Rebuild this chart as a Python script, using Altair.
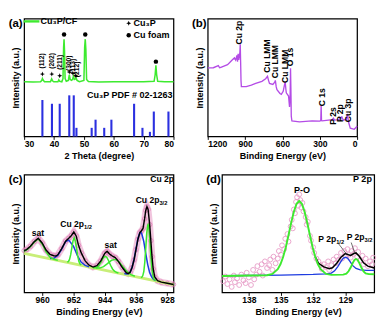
import altair as alt
import pandas as pd

FONT = "Liberation Sans"
GREEN = "#3DEA2F"
BARBLUE = "#2B30E0"
PURPLE = "#B44CE6"
PINK = "#E07FB6"
BLUE = "#1E3CE0"
BGLINE = "#C8EE78"

W = 157
H = 124

# ---------------- (a) XRD ----------------
xrd_theta = [30, 33, 35.5, 35.9, 36.1, 36.4, 36.8, 38.8, 39.0, 39.2, 39.5, 39.9, 41.3, 41.6, 41.9,
             42.6, 43.0, 43.2, 43.35, 43.5, 43.7, 44.1, 44.8, 45.1, 45.4, 45.9, 46.2, 46.5, 46.8,
             47.2, 47.4, 47.7, 48.5, 50.0, 50.25, 50.45, 50.65, 50.9, 51.5, 55, 60, 65, 70, 73.5,
             73.85, 74.1, 74.35, 74.7, 77, 80]
xrd_int = [58.5, 58.3, 58.5, 60, 62, 60, 58.5, 58.5, 60, 61.5, 59.5, 58.5, 58.5, 60.5, 59,
           58.5, 62, 95, 104, 92, 62, 59, 60, 66, 61, 60, 61, 64.5, 61,
           61.5, 62.5, 60, 58.5, 60, 95, 104, 93, 61, 58.8, 58.3, 58.6, 58.4, 58.6, 59,
           66, 76, 66, 59, 58.5, 58.4]

pdf_theta = [36.1, 39.3, 41.9, 45.1, 46.6, 47.5, 52.6, 53.9, 56.8, 59.2, 66.8, 69.6, 72.1, 73.4, 78.3]
pdf_int = [39, 35, 35, 44, 44, 9.3, 9.3, 18, 9.3, 18, 35, 9.3, 5, 26.7, 26.7]

star_theta = [36.1, 39.25, 41.9, 45.1, 46.3, 47.3]
star_int = [66.7, 66.7, 65, 69, 67.7, 65]
dot_theta = [43.35, 50.45, 74.1]
dot_int = [109, 109, 80]

hkl_text = ["(112)", "(202)", "(211)", "(300)", "(113)", "(212)"]
hkl_theta = [36.1, 39.25, 41.9, 45.2, 46.5, 47.8]
hkl_int = [80.8, 80.8, 79.3, 78.3, 75, 71.7]

# legend / annotations of (a)
leg_line_x = [29.8]
leg_line_x2 = [35.1]
leg_line_y = [123]
a_text = ["Cu\u2083P/CF", "Cu\u2083P", "Cu foam"]
a_text_x = [35.5, 66.6, 66.6]
a_text_y = [123, 121, 108.3]
a_star_x = [65.0]
a_star_y = [121]
a_dot_x = [65.0]
a_dot_y = [108.3]
pdf_label = ["Cu\u2083P PDF # 02-1263"]
pdf_label_x = [79.7]
pdf_label_y = [44.5]

# ---------------- (b) survey ----------------
b_e = [1200, 1155, 1115, 1105, 1095, 1041, 1004, 986, 976, 966, 961, 956, 951, 946, 942, 939, 936,
       933, 930, 891, 850, 815, 765, 735, 720, 712, 704, 677, 662, 657, 650, 644, 620, 609, 594,
       584, 578, 572, 569, 551, 543, 538, 535, 532, 529, 524, 463, 362, 300, 292, 289, 286, 282,
       230, 199, 191, 181, 145, 136, 123, 111, 86, 80, 76, 72, 68, 55, 23, 0]
b_v = [73.3, 73.5, 75.7, 73.5, 74, 76.7, 81.7, 84, 81.7, 86.7, 80, 88.3, 82, 86, 90, 98.5, 80,
       60, 53.3, 53.3, 55, 56.7, 59, 61.7, 64.3, 60, 56.7, 55.7, 58, 60, 53, 50, 46, 45, 48.3,
       55, 58.3, 50, 46.7, 43.3, 31.7, 45, 73, 50, 21.7, 16.7, 15.7, 16.7, 16.5, 17, 33.3, 17, 16.7,
       17.5, 18, 19.5, 17.5, 18, 19.5, 21, 17.5, 18.5, 22, 24.3, 18, 15, 9, 7.7, 11]
b_lab = ["Cu 2p", "Cu LMM", "Cu LMM", "Cu LMM", "O 1s", "C 1s", "P 2s", "P 2p", "Cu 3p"]
b_lab_e = [951, 719, 657, 576, 541, 284, 196, 134, 75]
b_lab_v = [111, 86, 80, 75, 85, 42, 22, 25, 28]

# ---------------- (c) Cu 2p ----------------
c_bg_e = [964.6, 926.4]
c_bg_v = [41.5, 8.5]
c_black_e = [964.6, 964, 963, 962, 961, 960, 959, 958, 957, 956.5, 956, 955, 954, 953.2, 952.5,
             951.9, 951.3, 950.7, 950, 949, 948, 947, 946, 945, 944, 943.4, 942.8, 942, 941.3,
             940.5, 939.5, 938.5, 938, 937.5, 937, 936.5, 936, 935.5, 935, 934.6, 934.2, 933.8,
             933.5, 933.2, 932.9, 932.5, 932.2, 931.9, 931.6, 931.2, 930.5, 929.5, 928, 926.4]
c_black_v = [44.5, 45.5, 49, 54, 57.5, 52.5, 45, 40.5, 39, 38.7, 40, 46.5, 54.5, 57.5, 60.5,
             64.3, 60, 50, 42, 33.5, 29, 27, 28.5, 33.5, 41.5, 43.7, 41, 38.5, 37,
             33, 26.5, 21, 20, 21.5, 26.5, 34.5, 45.5, 56.5, 63.5, 65.5, 68, 78,
             87, 91, 88, 72, 55, 38, 25, 16.5, 12.5, 11, 9.8, 8.6]
c_g1_e = [964.6, 964, 963, 962, 961, 960, 959, 958, 957, 956]
c_g1_v = [44, 45, 48.5, 53.5, 57, 51.5, 43, 37.5, 35.2, 34.1]
c_g2_e = [953.6, 953.3, 953.0, 952.7, 952.4, 952.1, 951.8, 951.5, 951.2, 950.9, 950.6, 950.3, 950.0]
c_g2_v = [32.2, 32.8, 35.1, 40.1, 47.7, 54.9, 58, 54.4, 46.7, 38.6, 33, 30.3, 29.2]
c_g3_e = [947, 946.5, 946, 945.5, 945, 944.5, 944, 943.5, 943, 942.5, 942, 941.5, 941, 940.5]
c_g3_v = [26.4, 26.3, 26.7, 28.5, 31.9, 35.8, 38.4, 37.6, 33.7, 28.9, 25, 22.6, 21.4, 20.7]
c_g4_e = [946.3, 945.3, 944.3, 943.3, 942.3, 941.3, 940.3, 939.3, 938.3, 937.3, 936.3]
c_g4_v = [25.9, 25.9, 27.4, 30.6, 34.1, 35.3, 32.4, 27.1, 22.2, 19, 17.3]
c_g5_e = [934.75, 934.5, 934.25, 934, 933.75, 933.5, 933.25, 933, 932.9, 932.75, 932.5, 932.25,
          932, 931.75, 931.5, 931.25, 931]
c_g5_v = [15.9, 16.4, 18, 22.3, 32.1, 47.1, 62.9, 71.3, 72, 69.8, 58.3, 42.3, 28.6, 19.4, 15.2,
          13.3, 12.5]
c_b1_e = [958, 957, 956, 955, 954, 953.2, 952, 951, 950, 949, 948]
c_b1_v = [36, 36.3, 39.3, 46.1, 54.1, 55.6, 49.1, 39.4, 32.1, 28.8, 27.2]
c_b2_e = [939, 938.5, 938, 937.5, 937, 936.5, 936, 935.5, 935, 934.8, 934.5, 934, 933.5, 933,
          932.5, 932, 931.5, 931]
c_b2_v = [20.3, 19.8, 19.9, 21.6, 26.7, 35, 46.2, 57.1, 63.7, 64.1, 62.1, 53.9, 41.2, 29.6,
          21.1, 16.5, 13.9, 12.6]
c_lab = ["Cu 2p", "sat", "sat"]
c_lab_e = [929.3, 961.1, 942.5]
c_lab_v = [120, 63, 49.7]
c_main = ["Cu 2p", "Cu 2p"]
c_sub = ["3/2", "1/2"]
c_main_e = [930.0, 949.3]
c_main_v = [97.7, 72]

# ---------------- (d) P 2p ----------------
d_green_e = [140.5, 136.3, 135.8, 135.3, 135.05, 134.8, 134.55, 134.3, 134.05, 133.8, 133.55,
             133.3, 133.05, 132.8, 132.55, 132.3, 132.05, 131.8, 131.55, 131.3, 130.8, 130.3,
             129.2, 128.9, 128.7, 128.5, 128.3, 128.15, 128.0, 127.85, 127.7, 127.5, 127.3,
             127.1, 126.8, 126.3]
d_green_v = [17.5, 18.3, 19.7, 24.7, 29.9, 37.7, 48.1, 60.7, 73.9, 85.7, 94,
             97, 94, 85.7, 73.9, 60.7, 48.1, 37.7, 29.9, 24.7, 19.8, 18.7,
             19, 20, 22.5, 26.5, 31.5, 34.5, 35.5, 34.5, 31.5, 26.5, 22.5,
             20.3, 19.5, 19.4]
d_blue_e = [140.5, 135, 132, 130.8, 130.3, 130.0, 129.7, 129.4, 129.2, 129.0, 128.8, 128.6,
            128.3, 128.0, 127.6, 127.0, 126.3]
d_blue_v = [17.8, 18.5, 19.2, 19.8, 20.6, 23, 27.5, 33, 36.3, 37.5, 36.5, 33.5,
            28.5, 25.5, 24, 23.5, 23.5]
d_black_e = [131.8, 131.5, 131.0, 130.5, 130.2, 129.8, 129.4, 129.0, 128.7, 128.5, 128.2,
             128.0, 127.7, 127.3, 126.9, 126.3]
d_black_v = [37.7, 31, 27.2, 25.3, 26.2, 31, 37.5, 41.3, 40, 39.3, 41.3,
             42, 38.5, 31.5, 28, 26]
d_pts_e = [140.4, 140.2, 140.0, 139.8, 139.6, 139.4, 139.3, 139.1, 138.9, 138.7, 138.5, 138.3,
           138.2, 138.0, 137.8, 137.6, 137.5, 137.3, 137.2, 137.0, 136.8, 136.7, 136.5, 136.3,
           136.1, 136.0, 135.8, 135.7, 135.5, 135.3, 135.2, 135.0, 134.9, 134.7, 134.6, 134.4,
           134.3, 134.1, 134.0, 133.9, 133.8, 133.7, 133.6, 133.5, 133.4, 133.3, 133.2, 133.1,
           133.0, 132.9, 132.7, 132.6, 132.5, 132.3, 132.2, 132.0, 131.9, 131.7, 131.5, 131.3,
           131.2, 131.0, 130.8, 130.6, 130.5, 130.3, 130.1, 129.9, 129.8, 129.6, 129.4, 129.3,
           129.1, 129.0, 128.8, 128.7, 128.5, 128.4, 128.2, 128.1, 127.9, 127.8, 127.6, 127.4,
           127.3, 127.1, 126.9, 126.7, 126.5, 126.4]
d_pts_v = [12, 17, 9, 14, 6, 18, 11, 15, 8, 19, 13, 10,
           21, 16, 8, 24, 14, 19, 28, 22, 30, 18, 33, 26,
           29, 35, 24, 38, 31, 36, 44, 40, 50, 46, 57, 62,
           54, 70, 77, 68, 88, 84, 96, 101, 92, 104, 98, 90,
           95, 86, 80, 72, 75, 60, 55, 48, 42, 36, 33, 29,
           25, 30, 27, 33, 24, 29, 35, 31, 38, 35, 42, 36,
           44, 39, 46, 40, 37, 44, 41, 47, 38, 43, 34, 39,
           30, 36, 28, 33, 30, 37]
d_lab = ["P 2p", "P-O"]
d_lab_e = [127.4, 133.05]
d_lab_v = [120, 108.7]
d_main = ["P 2p", "P 2p"]
d_sub = ["1/2", "3/2"]
d_main_e = [129.85, 127.2]
d_main_v = [57, 58.7]
d_lead_e = [129.65, 128.45]
d_lead_e2 = [128.9, 128.1]
d_lead_v = [52, 53]
d_lead_v2 = [41, 41.5]

STAR = "M0,-1L0.28,-0.28L1,0L0.28,0.28L0,1L-0.28,0.28L-1,0L-0.28,-0.28Z"


def xenc(field, domain, values, title, reverse=False):
    return alt.X(f"{field}:Q",
                 scale=alt.Scale(domain=domain, reverse=reverse, nice=False, zero=False),
                 axis=alt.Axis(values=values, title=title, format="d"))


def yenc(field, top):
    return alt.Y(f"{field}:Q", scale=alt.Scale(domain=[0, top], nice=False, zero=False),
                 axis=alt.Axis(title="Intensity (a.u.)", labels=False, ticks=False, titlePadding=4))


def plabel(t):
    return alt.Chart(pd.DataFrame({"t": [t]})).mark_text(
        fontSize=12, fontWeight="bold", align="center", baseline="middle", color="black"
    ).encode(x=alt.value(-9), y=alt.value(5), text="t:N")


# ---------- panel a ----------
XA = dict(domain=[30, 80], values=[30, 40, 50, 60, 70, 80], title="2 Theta (degree)")
df_xrd = pd.DataFrame({"x": xrd_theta, "y": xrd_int})
df_pdf = pd.DataFrame({"x": pdf_theta, "y": pdf_int})
a_layers = [
    alt.Chart(df_pdf).mark_rule(color=BARBLUE, strokeWidth=2.2).encode(
        x=xenc("x", **XA), y=yenc("y", 126), y2=alt.datum(0)),
    alt.Chart(df_xrd).mark_line(color=GREEN, strokeWidth=1.6).encode(
        x=xenc("x", **XA), y=yenc("y", 126)),
    alt.Chart(pd.DataFrame({"x": star_theta + a_star_x, "y": star_int + a_star_y})).mark_point(
        shape=STAR, filled=True, color="black", size=28, opacity=1).encode(
        x=xenc("x", **XA), y=yenc("y", 126)),
    alt.Chart(pd.DataFrame({"x": dot_theta + a_dot_x, "y": dot_int + a_dot_y})).mark_circle(
        color="black", size=22, opacity=1).encode(x=xenc("x", **XA), y=yenc("y", 126)),
    alt.Chart(pd.DataFrame({"x": hkl_theta, "y": hkl_int, "t": hkl_text})).mark_text(
        angle=270, fontSize=7, fontWeight="bold", color="black", align="center",
        baseline="middle").encode(x=xenc("x", **XA), y=yenc("y", 126), text="t:N"),
    alt.Chart(pd.DataFrame({"x": leg_line_x, "x2": leg_line_x2, "y": leg_line_y})).mark_rule(
        color=GREEN, strokeWidth=2.5).encode(x=xenc("x", **XA), x2="x2:Q", y=yenc("y", 126)),
    alt.Chart(pd.DataFrame({"x": a_text_x, "y": a_text_y, "t": a_text})).mark_text(
        fontSize=9.5, fontWeight="bold", color="black", align="left", baseline="middle").encode(
        x=xenc("x", **XA), y=yenc("y", 126), text="t:N"),
    alt.Chart(pd.DataFrame({"x": pdf_label_x, "y": pdf_label_y, "t": pdf_label})).mark_text(
        fontSize=9.5, fontWeight="bold", color="black", align="right", baseline="middle").encode(
        x=xenc("x", **XA), y=yenc("y", 126), text="t:N"),
    plabel("(a)"),
]
panel_a = alt.layer(*a_layers).properties(width=W, height=H)

# ---------- panel b ----------
XB = dict(domain=[0, 1200], values=[1200, 900, 600, 300, 0], title="Binding Energy (eV)", reverse=True)
b_layers = [
    alt.Chart(pd.DataFrame({"x": b_e, "y": b_v})).mark_line(color=PURPLE, strokeWidth=1.4).encode(
        x=xenc("x", **XB), y=yenc("y", 126)),
    alt.Chart(pd.DataFrame({"x": b_lab_e, "y": b_lab_v, "t": b_lab})).mark_text(
        angle=270, fontSize=9, fontWeight="bold", color="black", align="center",
        baseline="middle").encode(x=xenc("x", **XB), y=yenc("y", 126), text="t:N"),
    plabel("(b)"),
]
panel_b = alt.layer(*b_layers).properties(width=W, height=H)

# ---------- panel c ----------
XC = dict(domain=[926.4, 964.6], values=[960, 952, 944, 936, 928], title="Binding Energy (eV)", reverse=True)


def comp(es, vs, name):
    return pd.DataFrame({"x": es, "y": vs, "s": name})


df_cg = pd.concat([comp(c_g1_e, c_g1_v, "g1"), comp(c_g2_e, c_g2_v, "g2"),
                   comp(c_g3_e, c_g3_v, "g3"), comp(c_g4_e, c_g4_v, "g4"),
                   comp(c_g5_e, c_g5_v, "g5")])
df_cb = pd.concat([comp(c_b1_e, c_b1_v, "b1"), comp(c_b2_e, c_b2_v, "b2")])
df_cblack = pd.DataFrame({"x": c_black_e, "y": c_black_v})
c_layers = [
    alt.Chart(df_cblack).mark_line(color=PINK, strokeWidth=7, opacity=0.45).encode(
        x=xenc("x", **XC), y=yenc("y", 125)),
    alt.Chart(df_cblack).mark_point(color=PINK, size=22, strokeWidth=1, opacity=0.8).encode(
        x=xenc("x", **XC), y=yenc("y", 125)),
    alt.Chart(pd.DataFrame({"x": c_bg_e, "y": c_bg_v})).mark_line(color=BGLINE, strokeWidth=3).encode(
        x=xenc("x", **XC), y=yenc("y", 125)),
    alt.Chart(df_cb).mark_line(color=BLUE, strokeWidth=1.6).encode(
        x=xenc("x", **XC), y=yenc("y", 125), detail="s:N"),
    alt.Chart(df_cg).mark_line(color=GREEN, strokeWidth=1.6).encode(
        x=xenc("x", **XC), y=yenc("y", 125), detail="s:N"),
    alt.Chart(df_cblack).mark_line(color="black", strokeWidth=1.5).encode(
        x=xenc("x", **XC), y=yenc("y", 125)),
    alt.Chart(pd.DataFrame({"x": c_lab_e, "y": c_lab_v, "t": c_lab})).mark_text(
        fontSize=9, fontWeight="bold", color="black", align="center", baseline="middle").encode(
        x=xenc("x", **XC), y=yenc("y", 125), text="t:N"),
    alt.Chart(pd.DataFrame({"x": c_main_e, "y": c_main_v, "t": c_main})).mark_text(
        fontSize=9, fontWeight="bold", color="black", align="right", baseline="middle").encode(
        x=xenc("x", **XC), y=yenc("y", 125), text="t:N"),
    alt.Chart(pd.DataFrame({"x": c_main_e, "y": c_main_v, "t": c_sub})).mark_text(
        fontSize=6, fontWeight="bold", color="black", align="left", baseline="middle", dy=3).encode(
        x=xenc("x", **XC), y=yenc("y", 125), text="t:N"),
    plabel("(c)"),
]
panel_c = alt.layer(*c_layers).properties(width=W, height=H)

# ---------- panel d ----------
XD = dict(domain=[126.3, 140.5], values=[138, 135, 132, 129], title="Binding Energy (eV)", reverse=True)
d_layers = [
    alt.Chart(pd.DataFrame({"x": d_pts_e, "y": d_pts_v})).mark_point(
        color="#E79AC6", size=26, strokeWidth=1, opacity=0.9).encode(
        x=xenc("x", **XD), y=yenc("y", 125)),
    alt.Chart(pd.DataFrame({"x": d_blue_e, "y": d_blue_v})).mark_line(color=BLUE, strokeWidth=1.4).encode(
        x=xenc("x", **XD), y=yenc("y", 125)),
    alt.Chart(pd.DataFrame({"x": d_black_e, "y": d_black_v})).mark_line(color="black", strokeWidth=1.6).encode(
        x=xenc("x", **XD), y=yenc("y", 125)),
    alt.Chart(pd.DataFrame({"x": d_green_e, "y": d_green_v})).mark_line(color=GREEN, strokeWidth=2).encode(
        x=xenc("x", **XD), y=yenc("y", 125)),
    alt.Chart(pd.DataFrame({"x": d_lead_e, "x2": d_lead_e2, "y": d_lead_v, "y2": d_lead_v2})).mark_rule(
        color="#444444", strokeWidth=0.8).encode(
        x=xenc("x", **XD), x2="x2:Q", y=yenc("y", 125), y2="y2:Q"),
    alt.Chart(pd.DataFrame({"x": d_lab_e, "y": d_lab_v, "t": d_lab})).mark_text(
        fontSize=9.5, fontWeight="bold", color="black", align="center", baseline="middle").encode(
        x=xenc("x", **XD), y=yenc("y", 125), text="t:N"),
    alt.Chart(pd.DataFrame({"x": d_main_e, "y": d_main_v, "t": d_main})).mark_text(
        fontSize=9, fontWeight="bold", color="black", align="right", baseline="middle").encode(
        x=xenc("x", **XD), y=yenc("y", 125), text="t:N"),
    alt.Chart(pd.DataFrame({"x": d_main_e, "y": d_main_v, "t": d_sub})).mark_text(
        fontSize=6, fontWeight="bold", color="black", align="left", baseline="middle", dy=3).encode(
        x=xenc("x", **XD), y=yenc("y", 125), text="t:N"),
    plabel("(d)"),
]
panel_d = alt.layer(*d_layers).properties(width=160, height=H)

row1 = alt.hconcat(panel_a, panel_b, spacing=14)
row2 = alt.hconcat(panel_c, panel_d, spacing=18)

chart = alt.vconcat(row1, row2, spacing=12).properties(padding=0).configure(
    font=FONT, background="white"
).configure_view(stroke="black", strokeWidth=1.3).configure_axis(
    labelFont=FONT, titleFont=FONT, labelFontWeight="bold", titleFontWeight="bold",
    labelFontSize=9, titleFontSize=9.5, labelColor="black", titleColor="black",
    tickColor="black", tickSize=3, domain=False, grid=False, labelPadding=1, titlePadding=2
).configure_text(font=FONT)

chart.save("out.html", embed_options={"renderer": "svg", "actions": False})
